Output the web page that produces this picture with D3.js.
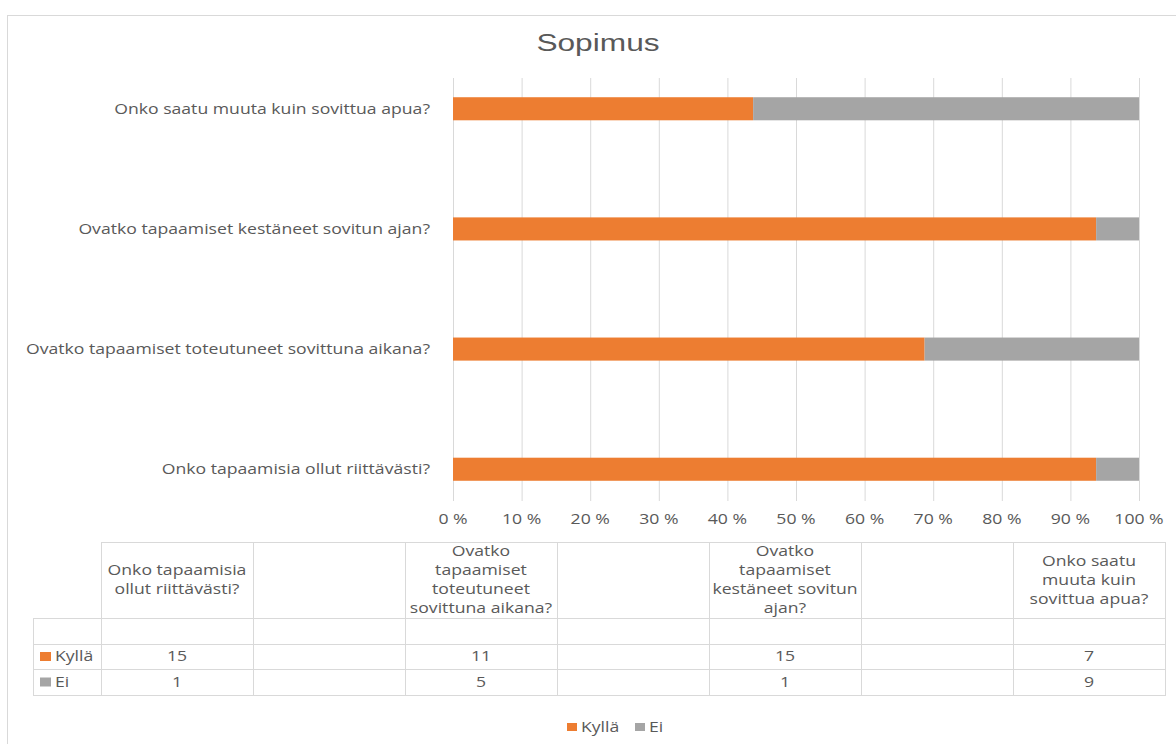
<!doctype html>
<html>
  <head>
    <meta charset="utf-8">
    <script src="https://d3js.org/d3.v7.min.js"></script>
    <style>
      body { margin: 0; background: #fff; }
      text { font-family: "Open Sans", "DejaVu Sans", sans-serif; fill: #595959; }
    </style>
  </head>
  <body>
    <script>

// data
var categories = [
  "Onko tapaamisia ollut riittävästi?",
  "Ovatko tapaamiset toteutuneet sovittuna aikana?",
  "Ovatko tapaamiset kestäneet sovitun ajan?",
  "Onko saatu muuta kuin sovittua apua?"
];
// wrapped header lines for the data table
var tableHeaders = [
  ["Onko tapaamisia", "ollut riittävästi?"],
  ["Ovatko", "tapaamiset", "toteutuneet", "sovittuna aikana?"],
  ["Ovatko", "tapaamiset", "kestäneet sovitun", "ajan?"],
  ["Onko saatu", "muuta kuin", "sovittua apua?"]
];
var seriesNames = ["Kyllä", "Ei"];
var kylla = [15, 11, 15, 7];
var ei = [1, 5, 1, 9];
var ticks = [0, 10, 20, 30, 40, 50, 60, 70, 80, 90, 100];
var colors = ["#ED7D31", "#A5A5A5"];

// the picture is a bit stretched sideways, so text gets widened too
var SX = 1.26;

var svg = d3.select("body")
  .append("svg")
    .attr("width", 1176)
    .attr("height", 744);

// puts a widened text at x,y
function label(parent, xx, yy, str, anchor, size) {
  return parent.append("text")
    .attr("transform", "translate(" + xx + "," + yy + ") scale(" + SX + ",1)")
    .attr("dy", "0.35em")
    .attr("text-anchor", anchor)
    .style("font-size", (size || 14) + "px")
    .text(str);
}

// outer chart border
svg.append("rect")
  .attr("x", 7.5).attr("y", 15.5)
  .attr("width", 1200).attr("height", 800)
  .attr("fill", "none")
  .attr("stroke", "#d9d9d9");

svg.append("text")
  .attr("transform", "translate(598,51) scale(1.32,1)")
  .attr("text-anchor", "middle")
  .style("font-family", "'Liberation Sans', Arial, sans-serif")
  .style("font-size", "24px")
  .text("Sopimus");

var x = d3.scaleLinear().domain([0, 100]).range([453, 1139]);
var y = d3.scaleBand()
  .domain(categories.slice().reverse())
  .range([78, 500])
  .paddingInner(0.808)
  .paddingOuter(0.16);

// gridlines
svg.selectAll("line.grid")
  .data(ticks)
  .enter().append("line")
    .attr("class", "grid")
    .attr("x1", function(d) { return x(d) + 0.5; })
    .attr("x2", function(d) { return x(d) + 0.5; })
    .attr("y1", 78).attr("y2", 501)
    .attr("stroke", "#d9d9d9");

// tick labels
ticks.forEach(function(t) {
  label(svg, x(t), 519, t + " %", "middle");
});

// stacked 100% bars
var rows = categories.map(function(c, i) {
  var total = kylla[i] + ei[i];
  return { cat: c, k: kylla[i] / total * 100, e: ei[i] / total * 100 };
});

var g = svg.selectAll("g.bar")
  .data(rows)
  .enter().append("g")
    .attr("class", "bar");

g.append("rect")
  .attr("x", x(0))
  .attr("y", function(d) { return y(d.cat); })
  .attr("width", function(d) { return x(d.k) - x(0); })
  .attr("height", y.bandwidth())
  .attr("fill", colors[0]);

g.append("rect")
  .attr("x", function(d) { return x(d.k); })
  .attr("y", function(d) { return y(d.cat); })
  .attr("width", function(d) { return x(d.k + d.e) - x(d.k); })
  .attr("height", y.bandwidth())
  .attr("fill", colors[1]);

rows.forEach(function(d) {
  label(svg, 430, y(d.cat) + y.bandwidth() / 2, d.cat, "end");
});

// data table: 7 columns, values in every other one
var colX = d3.range(8).map(function(i) { return 101 + i * 152; });
var tTop = 542, hBottom = 618, r1 = 644, r2 = 669, r3 = 695;
var tbl = svg.append("g").attr("stroke", "#d9d9d9").attr("fill", "none");

[tTop, hBottom, r1, r2, r3].forEach(function(yy, i) {
  tbl.append("line")
    .attr("x1", i === 0 ? colX[0] : 33).attr("x2", colX[7] + 1)
    .attr("y1", yy + 0.5).attr("y2", yy + 0.5);
});
colX.forEach(function(xx) {
  tbl.append("line")
    .attr("x1", xx + 0.5).attr("x2", xx + 0.5)
    .attr("y1", tTop).attr("y2", r3);
});
tbl.append("line")
  .attr("x1", 33.5).attr("x2", 33.5)
  .attr("y1", hBottom).attr("y2", r3);

// header text
tableHeaders.forEach(function(lines, i) {
  var cx = (colX[i * 2] + colX[i * 2 + 1]) / 2;
  var lh = 19;
  var y0 = (tTop + hBottom) / 2 - (lines.length - 1) * lh / 2;
  lines.forEach(function(s, j) {
    label(svg, cx, y0 + j * lh, s, "middle");
  });
});

// series rows
[kylla, ei].forEach(function(vals, s) {
  var top = s === 0 ? r1 : r2;
  var bot = s === 0 ? r2 : r3;
  var cy = (top + bot) / 2;
  svg.append("rect")
    .attr("x", 40).attr("y", cy - 4.5)
    .attr("width", 11).attr("height", 9)
    .attr("fill", colors[s]);
  label(svg, 55, cy, seriesNames[s], "start");
  vals.forEach(function(v, i) {
    label(svg, (colX[i * 2] + colX[i * 2 + 1]) / 2, cy, v, "middle");
  });
});

// legend
var lx = [567, 635];
seriesNames.forEach(function(n, i) {
  svg.append("rect")
    .attr("x", lx[i]).attr("y", 723)
    .attr("width", 10).attr("height", 8)
    .attr("fill", colors[i]);
  label(svg, lx[i] + 14, 727, n, "start");
});

    </script>
  </body>
</html>
